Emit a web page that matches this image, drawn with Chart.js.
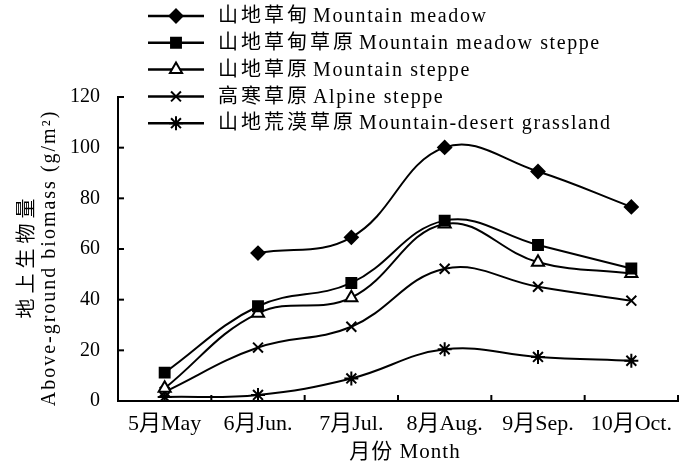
<!DOCTYPE html>
<html><head><meta charset="utf-8">
<script src="https://cdn.jsdelivr.net/npm/chart.js@4/dist/chart.umd.min.js"></script>
<style>html,body{margin:0;padding:0;background:#fff}#wrap{width:687px;height:467px}</style>
</head><body><div id="wrap"><canvas id="c"></canvas></div>
<script>
const months = ['5月May','6月Jun.','7月Jul.','8月Aug.','9月Sep.','10月Oct.'];
const seriesCn = ['山地草甸','山地草甸草原','山地草原','高寒草原','山地荒漠草原'];
const seriesEn = ['Mountain meadow','Mountain meadow steppe','Mountain steppe','Alpine steppe','Mountain-desert grassland'];
const mountainMeadow = [null, 58.4, 64.6, 100.1, 90.6, 76.6];
const meadowSteppe = [11.2, 37.4, 46.6, 71.2, 61.6, 52.3];
const mountainSteppe = [5.0, 34.6, 40.8, 69.9, 54.8, 50.3];
const alpineSteppe = [3.6, 21.1, 29.3, 52.2, 45.1, 39.6];
const desertGrassland = [1.6, 2.4, 8.9, 20.4, 17.4, 15.9];
const yTicks = [0,20,40,60,80,100,120];
const yTitle = ['地上生物量','Above-ground biomass (g/m²)'];
const xTitle = '月份 Month';

const FONT = '"Liberation Serif", "Times New Roman", "Noto Sans CJK SC", serif';
const styles = [
  {pointStyle:'rectRot', radius:6.5, fill:'#000'},
  {pointStyle:'rect', radius:7, fill:'#000'},
  {pointStyle:'triangle', radius:7, fill:'#fff'},
  {pointStyle:'crossRot', radius:7, fill:'#000'},
  {pointStyle:'star', radius:7, fill:'#000'}
];
const allData = [mountainMeadow, meadowSteppe, mountainSteppe, alpineSteppe, desertGrassland];
const datasets = allData.map((d,i)=>({
  label: seriesCn[i]+' '+seriesEn[i], data: d,
  borderColor:'#000', borderWidth:2, tension:0.4, spanGaps:false,
  pointStyle: styles[i].pointStyle, pointRadius: styles[i].radius,
  pointBackgroundColor: styles[i].fill, pointBorderColor:'#000', pointBorderWidth:2,
  fill:false
}));

function spaced(ctx, px){ try{ctx.letterSpacing=px+'px';}catch(e){} }

const tickPlugin = {
  id:'ticksIn',
  afterDraw(chart){
    const ctx = chart.ctx, ca = chart.chartArea;
    const x = chart.scales.x, y = chart.scales.y;
    ctx.save(); ctx.strokeStyle='#000'; ctx.lineWidth=2;
    yTicks.forEach(v=>{const py=y.getPixelForValue(v); ctx.beginPath(); ctx.moveTo(ca.left,py); ctx.lineTo(ca.left+6,py); ctx.stroke();});
    const n = months.length;
    for(let i=0;i<=n;i++){
      let px;
      if(i===0) px=ca.left; else if(i===n) px=ca.right;
      else px=(x.getPixelForValue(i-1)+x.getPixelForValue(i))/2;
      ctx.beginPath(); ctx.moveTo(px,ca.bottom); ctx.lineTo(px,ca.bottom-6); ctx.stroke();
    }
    // legend
    const lx0=148, lx1=204, tx=218, y0=16, dy=26.8;
    ctx.font = '20px '+FONT; ctx.textBaseline='middle'; ctx.textAlign='left';
    chart.data.datasets.forEach((ds,i)=>{
      const yy=y0+i*dy;
      ctx.lineWidth=2.5; ctx.strokeStyle='#000';
      ctx.beginPath(); ctx.moveTo(lx0,yy); ctx.lineTo(lx1,yy); ctx.stroke();
      ctx.lineWidth=2; ctx.fillStyle=ds.pointBackgroundColor;
      Chart.helpers.drawPoint(ctx,{pointStyle:ds.pointStyle,radius:ds.pointRadius,rotation:0,borderWidth:2},(lx0+lx1)/2,yy);
      ctx.fillStyle='#000';
      spaced(ctx,3);
      ctx.fillText(seriesCn[i],tx,yy+1);
      const w = ctx.measureText(seriesCn[i]).width;
      spaced(ctx,1.6);
      ctx.fillText(seriesEn[i],tx+w+3,yy+1);
    });
    // axis titles
    ctx.fillStyle='#000'; ctx.textAlign='center'; ctx.textBaseline='middle';
    ctx.font='21px '+FONT; spaced(ctx,1);
    ctx.fillText(xTitle,405,452);
    ctx.save(); ctx.translate(28,256); ctx.rotate(-Math.PI/2);
    ctx.font='20px '+FONT; spaced(ctx,5); ctx.fillText(yTitle[0],0,0); ctx.restore();
    ctx.save(); ctx.translate(50,258); ctx.rotate(-Math.PI/2);
    ctx.font='20px '+FONT; spaced(ctx,2); ctx.fillText(yTitle[1],0,0); ctx.restore();
    ctx.restore();
  }
};

new Chart(document.getElementById('c'),{
  type:'line',
  data:{labels:months, datasets},
  plugins:[tickPlugin],
  options:{
    responsive:true, maintainAspectRatio:false, animation:false,
    layout:{padding:{top:97,right:9,left:0,bottom:0}},
    plugins:{legend:{display:false}, tooltip:{enabled:false}},
    scales:{
      x:{
        offset:true,
        grid:{display:false, offset:true, drawTicks:false},
        border:{display:true,color:'#000',width:2},
        ticks:{color:'#000',font:{family:FONT,size:22},padding:10,maxRotation:0,autoSkip:false},
        afterFit(s){s.height=66;}
      },
      y:{
        min:0,max:120,
        afterBuildTicks(s){s.ticks=yTicks.map(v=>({value:v}));},
        grid:{display:false, drawTicks:false},
        border:{display:true,color:'#000',width:2},
        ticks:{color:'#000',font:{family:FONT,size:20},padding:18},
        afterFit(s){s.width=118;}
      }
    }
  }
});
</script></body></html>
